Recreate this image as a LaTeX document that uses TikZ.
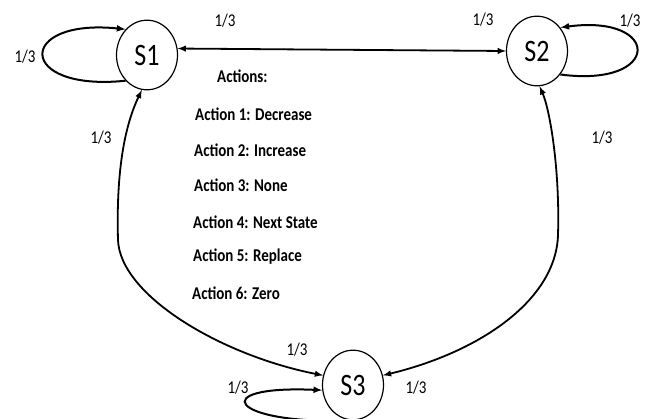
\documentclass[tikz,border=0pt]{standalone}
\usepackage{fontspec}
\setmainfont{Carlito}
\usetikzlibrary{shapes.geometric}

\tikzset{
  state/.style={draw, ellipse, line width=1.2pt, minimum width=61pt, minimum height=58pt,
    inner sep=0pt, font=\fontsize{26}{28}\selectfont, yscale=1.2, transform shape},
  prob/.style={inner sep=0pt, font=\fontsize{15}{17}\selectfont, yscale=1.2, transform shape},
  act/.style={anchor=west, inner sep=0pt, font=\fontsize{15}{17}\selectfont\bfseries,
    yscale=1.2, transform shape},
}

\begin{document}
\begin{tikzpicture}[x=1pt,y=1pt,>=latex]
\useasboundingbox (0,0) rectangle (649,-419);

\node[state] (s1) at (147,-55) {S1};
\node[state] (s2) at (537,-51) {S2};
\node[state] (s3) at (353,-385) {S3};

% self loops
\draw[->,line width=2pt] (s1.225) .. controls (16,-92) and (16,-18) .. (s1.135);
\draw[->,line width=2pt] (s2.-40) .. controls (662,-88) and (662,-14) .. (s2.40);
\draw[->,line width=2pt] (s3.265) .. controls (230,-425) and (205,-385) .. (s3.188);

% transitions
\draw[<->,line width=1.8pt] (s1.10) -- (s2.west);
\draw[<->,line width=1.8pt] (s1.260) .. controls (125,-125) and (116,-170) .. (118,-240)
  .. controls (120,-295) and (220,-355) .. (s3.165);
\draw[<->,line width=1.8pt] (s2.275) .. controls (550,-110) and (560,-170) .. (558,-235)
  .. controls (556,-300) and (480,-352) .. (s3.15);

\node[prob] (p1) at (25,-57) {1/3};
\node[prob] (p12) at (225,-21) {1/3};
\node[prob] (p21) at (483,-20) {1/3};
\node[prob] (p2) at (630,-21) {1/3};
\node[prob] (p13) at (101,-138) {1/3};
\node[prob] (p23) at (602,-138) {1/3};
\node[prob] (p31) at (297,-350) {1/3};
\node[prob] (p3) at (238,-388) {1/3};
\node[prob] (p32) at (416,-388) {1/3};

\node[act] (acts) at (217,-76) {Actions:};
\node[act] (a1) at (195,-114) {Action 1: Decrease};
\node[act] (a2) at (194,-150) {Action 2: Increase};
\node[act] (a3) at (194,-185) {Action 3: None};
\node[act] (a4) at (193,-222) {Action 4: Next State};
\node[act] (a5) at (193,-257) {Action 5: Replace};
\node[act] (a6) at (192,-293) {Action 6: Zero};
\end{tikzpicture}
\end{document}
